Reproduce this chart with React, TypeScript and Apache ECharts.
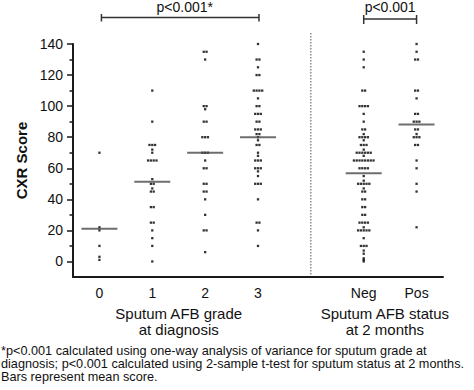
import React, { useEffect, useRef } from "react";
import * as echarts from "echarts";

const categories = ["0", "1", "2", "3", "", "Neg", "Pos"];
const yLabelValues = [0, 20, 40, 60, 80, 100, 120, 140];
const yMinorValues = [10, 30, 50, 70, 90, 110, 130];

const grade0 = [70, 22, 20, 10, 3, 1];
const grade1 = [110, 90, 75, 75, 75, 72, 70, 65, 65, 65, 65, 53, 50, 50, 47, 45, 45, 35, 35, 25, 25, 20, 15, 10, 0];
const grade2 = [135, 135, 130, 100, 100, 98, 90, 90, 80, 80, 80, 70, 70, 70, 65, 60, 60, 50, 50, 45, 45, 40, 30, 20, 20, 6];
const grade3 = [140, 130, 130, 125, 120, 120, 110, 110, 110, 110, 105, 100, 100, 95, 95, 95, 90, 90, 85, 85, 85, 82, 82, 80, 78, 75, 75, 70, 68, 65, 65, 65, 60, 60, 60, 58, 55, 50, 50, 50, 40, 25, 25, 20, 10];
const statusNeg = [135, 130, 125, 110, 110, 100, 100, 100, 100, 95, 90, 85, 85, 82, 80, 80, 80, 80, 78, 75, 75, 75, 72, 70, 70, 70, 70, 70, 70, 68, 65, 65, 65, 65, 65, 65, 65, 65, 60, 60, 60, 60, 55, 52, 50, 50, 50, 50, 50, 47, 45, 45, 40, 40, 35, 35, 30, 30, 25, 25, 25, 25, 22, 20, 20, 20, 20, 20, 15, 10, 10, 10, 7, 5, 2, 1, 0];
const statusPos = [140, 135, 130, 130, 110, 110, 105, 95, 95, 90, 90, 90, 85, 85, 82, 80, 80, 80, 75, 75, 65, 60, 50, 45, 22];

const groups: { index: number; values: number[] }[] = [
  { index: 0, values: grade0 },
  { index: 1, values: grade1 },
  { index: 2, values: grade2 },
  { index: 3, values: grade3 },
  { index: 5, values: statusNeg },
  { index: 6, values: statusPos },
];

const leftGroupLabel = "Sputum AFB grade\nat diagnosis";
const rightGroupLabel = "Sputum AFB status\nat 2 months";
const leftP = "p<0.001*";
const rightP = "p<0.001";
const footnoteLines = [
  "*p<0.001 calculated using one-way analysis of variance for sputum grade at",
  "diagnosis; p<0.001 calculated using 2-sample t-test for sputum status at 2 months.",
  "Bars represent mean score.",
];

const FONT = "'Liberation Sans', Arial, Helvetica, sans-serif";
const STEP = 0.053;

function dotPoints(): number[][] {
  const pts: number[][] = [];
  groups.forEach((g) => {
    const counts = new Map<number, number>();
    g.values.forEach((v) => counts.set(v, (counts.get(v) || 0) + 1));
    counts.forEach((n, v) => {
      for (let i = 0; i < n; i++) {
        pts.push([g.index + (i - (n - 1) / 2) * STEP, v]);
      }
    });
  });
  return pts;
}

function meanPoints(): number[][] {
  return groups.map((g) => [g.index, g.values.reduce((a, b) => a + b, 0) / g.values.length]);
}

export default function App() {
  const ref = useRef<HTMLDivElement>(null);
  useEffect(() => {
    document.body.style.margin = "0";
    const chart = echarts.init(ref.current!, null, { renderer: "svg" });
    const option: any = {
      animation: false,
      backgroundColor: "#ffffff",
      textStyle: { fontFamily: FONT },
      grid: { left: 73, right: 31, top: 44, bottom: 113 },
      xAxis: [
        {
          type: "category",
          data: categories,
          boundaryGap: true,
          axisLine: { onZero: false, lineStyle: { color: "#1a1a1a", width: 2 } },
          axisTick: { alignWithLabel: true, length: 6, lineStyle: { color: "#1a1a1a", width: 1.5 } },
          axisLabel: { color: "#111", fontSize: 14, fontFamily: FONT, margin: 9, interval: 0 },
          splitLine: { show: false },
        },
        { type: "value", min: -0.5, max: 6.5, show: false },
      ],
      yAxis: [
        {
          type: "value",
          min: -10,
          max: 140,
          position: "left",
          name: "CXR Score",
          nameLocation: "middle",
          nameGap: 31,
          nameTextStyle: { color: "#111", fontSize: 15, fontWeight: "bold", fontFamily: FONT },
          axisLine: { show: true, onZero: false, lineStyle: { color: "#1a1a1a", width: 2 } },
          axisTick: { show: true, length: 6, customValues: yLabelValues, lineStyle: { color: "#1a1a1a", width: 1.5 } },
          axisLabel: { color: "#111", fontSize: 14, fontFamily: FONT, margin: 10, customValues: yLabelValues },
          splitLine: { show: false },
        },
        {
          type: "value",
          min: -10,
          max: 140,
          position: "left",
          axisLine: { show: false, onZero: false },
          axisTick: { show: true, length: 3.5, customValues: yMinorValues, lineStyle: { color: "#1a1a1a", width: 1.5 } },
          axisLabel: { show: false },
          splitLine: { show: false },
        },
      ],
      series: [
        {
          type: "scatter",
          xAxisIndex: 1,
          yAxisIndex: 0,
          symbol: "rect",
          symbolSize: 2.3,
          itemStyle: { color: "#000" },
          data: dotPoints(),
          silent: true,
        },
        {
          type: "scatter",
          xAxisIndex: 1,
          yAxisIndex: 0,
          symbol: "rect",
          symbolSize: [36, 2],
          itemStyle: { color: "#4a4a4a" },
          data: meanPoints(),
          z: 3,
          silent: true,
        },
      ],
    };
    chart.setOption(option);

    const px = (x: number, y: number) =>
      chart.convertToPixel({ xAxisIndex: 1, yAxisIndex: 0 } as any, [x, y]) as number[];
    const sepX = px(4, 0)[0];
    const yBottom = px(4, -10)[1];
    const x0 = px(0, 0)[0];
    const x3 = px(3, 0)[0];
    const xN = px(5, 0)[0];
    const xP = px(6, 0)[0];
    const lineStyle = { stroke: "#333", lineWidth: 1.5 };
    const seg = (x1: number, y1: number, x2: number, y2: number, style: any = lineStyle) => ({
      type: "line",
      shape: { x1, y1, x2, y2 },
      style,
      silent: true,
    });
    const txt = (text: string, x: number, y: number, extra: any = {}) => ({
      type: "text",
      x,
      y,
      style: { text, fill: "#111", fontSize: 14, fontFamily: FONT, align: "center", verticalAlign: "middle", ...extra },
      silent: true,
    });

    chart.setOption({
      graphic: [
        seg(sepX, 33, sepX, yBottom, { stroke: "#555", lineWidth: 1, lineDash: [1.5, 1.5] }),
        seg(x0 + 2, 17.5, x3 + 1, 17.5),
        seg(x0 + 2, 14, x0 + 2, 21.5),
        seg(x3 + 1, 14, x3 + 1, 21.5),
        seg(xN, 19, xP, 19),
        seg(xN, 15, xN, 24),
        seg(xP, 15, xP, 24),
        txt(leftP, (x0 + x3) / 2 + 6, 7),
        txt(rightP, (xN + xP) / 2, 7),
        txt(leftGroupLabel, px(1.5, 0)[0], 305, { fontSize: 15, verticalAlign: "top", lineHeight: 16 }),
        txt(rightGroupLabel, px(5.4, 0)[0], 305, { fontSize: 15, verticalAlign: "top", lineHeight: 16 }),
        ...footnoteLines.map((line, i) =>
          txt(line, 1, 351 + i * 12.9, { fontSize: 12.7, lineHeight: 12.7, align: "left", verticalAlign: "middle" })
        ),
      ],
    });

    return () => chart.dispose();
  }, []);
  return <div ref={ref} style={{ position: "absolute", left: 0, top: 0, width: 474, height: 390 }} />;
}
